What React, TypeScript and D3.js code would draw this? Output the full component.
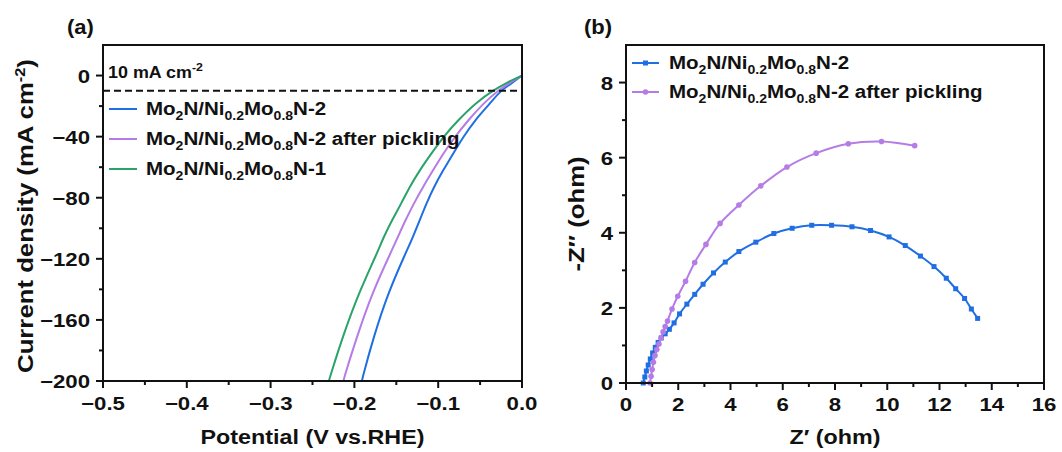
import React from 'react';
import * as d3 from 'd3';

// LSV curves, [potential V vs RHE, current density mA cm-2]
const lsvN2 = [
  [0, 0], [-0.012, -5], [-0.025, -9.5], [-0.038, -18.2], [-0.056, -29.1], [-0.07, -40.1],
  [-0.082, -51], [-0.094, -61.9], [-0.105, -72.8], [-0.114, -83.7], [-0.122, -94.6],
  [-0.13, -105.6], [-0.139, -116.4], [-0.16, -142.6], [-0.177, -171], [-0.19, -197.2], [-0.191, -200],
];
const lsvN2Pickled = [
  [0, 0], [-0.014, -4.5], [-0.028, -9.5], [-0.046, -18.2], [-0.064, -29.1], [-0.08, -40.1],
  [-0.094, -51], [-0.106, -61.9], [-0.118, -72.8], [-0.129, -83.7], [-0.139, -94.6],
  [-0.148, -105.6], [-0.157, -116.4], [-0.179, -142.6], [-0.197, -171], [-0.212, -197.2], [-0.213, -200],
];
const lsvN1 = [
  [0, 0], [-0.016, -4], [-0.034, -9.5], [-0.056, -18.2], [-0.076, -29.1], [-0.094, -40.1],
  [-0.108, -51], [-0.122, -61.9], [-0.134, -72.8], [-0.144, -83.7], [-0.155, -94.6],
  [-0.165, -105.6], [-0.173, -116.4], [-0.195, -142.6], [-0.214, -171], [-0.229, -197.2], [-0.2305, -200],
];

// Nyquist plots, [Z', -Z'']
const eisN2 = [
  [0.66, 0], [0.72, 0.16], [0.78, 0.32], [0.85, 0.48], [0.93, 0.64], [1.02, 0.8],
  [1.12, 0.95], [1.23, 1.08], [1.35, 1.2], [1.5, 1.31], [1.66, 1.43], [1.84, 1.6],
  [2.05, 1.84], [2.33, 2.1], [2.63, 2.36], [2.95, 2.63], [3.35, 2.93], [3.8, 3.22],
  [4.32, 3.5], [4.97, 3.75], [5.66, 3.98], [6.36, 4.12], [7.11, 4.2], [7.87, 4.2],
  [8.65, 4.16], [9.36, 4.06], [10.07, 3.89], [10.69, 3.66], [11.27, 3.38], [11.79, 3.1],
  [12.26, 2.79], [12.62, 2.51], [12.96, 2.25], [13.22, 1.97], [13.46, 1.72],
];
const eisN2Pickled = [
  [0.92, 0], [0.96, 0.18], [1.0, 0.36], [1.05, 0.55], [1.11, 0.73], [1.18, 0.89],
  [1.26, 1.04], [1.34, 1.2], [1.42, 1.36], [1.5, 1.5], [1.59, 1.65], [1.76, 1.97],
  [1.98, 2.31], [2.28, 2.71], [2.63, 3.21], [3.06, 3.69], [3.6, 4.25], [4.32, 4.74],
  [5.16, 5.25], [6.16, 5.75], [7.28, 6.12], [8.51, 6.37], [9.78, 6.43], [11.05, 6.32],
];

const lsvXTicks = [-0.5, -0.4, -0.3, -0.2, -0.1, 0.0];
const lsvYTicks = [0, -40, -80, -120, -160, -200];
const eisXTicks = [0, 2, 4, 6, 8, 10, 12, 14, 16];
const eisYTicks = [0, 2, 4, 6, 8];

const BLUE = '#1f6fe3';
const PURPLE = '#b57ce6';
const GREEN = '#2aa36b';
const INK = '#111';
const FONT = '"Liberation Sans", Arial, sans-serif';

const fmtV = (v: number) => (v === 0 ? '0.0' : '\u2212' + Math.abs(v).toFixed(1));
const fmtJ = (v: number) => (v === 0 ? '0' : '\u2212' + Math.abs(v));

// bold text, a bit wider than Liberation Sans like the source figure
const T = ({ x, y, size = 19, sx = 1.15, anchor = 'start', rotate = false, children }: any) => (
  <text
    transform={`translate(${x},${y})${rotate ? ' rotate(-90)' : ''} scale(${sx},1)`}
    textAnchor={anchor}
    fontFamily={FONT}
    fontWeight='bold'
    fontSize={size}
    fill={INK}
  >
    {children}
  </text>
);

// Mo2N/Ni0.2Mo0.8N-x with subscripts
const Formula = ({ x, y, tail }: any) => {
  const s = 13;
  const d = 5;
  return (
    <T x={x} y={y} size={19} sx={1.08}>
      Mo<tspan dy={d} fontSize={s}>2</tspan>
      <tspan dy={-d}>N/Ni</tspan><tspan dy={d} fontSize={s}>0.2</tspan>
      <tspan dy={-d}>Mo</tspan><tspan dy={d} fontSize={s}>0.8</tspan>
      <tspan dy={-d}>{tail}</tspan>
    </T>
  );
};

const LsvPanel = () => {
  const left = 103, right = 522, top = 45, bottom = 381;
  const x = d3.scaleLinear().domain([-0.5, 0]).range([left, right]);
  const y = d3.scaleLinear().domain([-200, 20]).range([bottom, top]);
  const line = d3.line().x((d) => x(d[0])).y((d) => y(d[1])).curve(d3.curveBasis);
  const minorX = [-0.45, -0.35, -0.25, -0.15, -0.05];
  const minorY = [-20, -60, -100, -140, -180];
  const series = [
    { data: lsvN2, color: BLUE, tail: 'N-2' },
    { data: lsvN2Pickled, color: PURPLE, tail: 'N-2 after pickling' },
    { data: lsvN1, color: GREEN, tail: 'N-1' },
  ];
  return (
    <g>
      <defs>
        <clipPath id='clipA'>
          <rect x={left} y={top} width={right - left} height={bottom - top} />
        </clipPath>
      </defs>
      <g clipPath='url(#clipA)'>
        {series.map((s, i) => (
          <path key={i} d={line(s.data as any)} fill='none' stroke={s.color} strokeWidth={2} />
        ))}
      </g>
      <line x1={left} x2={right} y1={y(-10)} y2={y(-10)} stroke={INK} strokeWidth={2} strokeDasharray='7,4' />
      <rect x={left} y={top} width={right - left} height={bottom - top} fill='none' stroke={INK} strokeWidth={2} />
      {lsvXTicks.map((t) => (
        <g key={t}>
          <line x1={x(t)} x2={x(t)} y1={bottom} y2={bottom + 7} stroke={INK} strokeWidth={2} />
          <T x={x(t)} y={410} anchor='middle' sx={1.17}>{fmtV(t)}</T>
        </g>
      ))}
      {minorX.map((t) => (
        <line key={t} x1={x(t)} x2={x(t)} y1={bottom} y2={bottom + 4} stroke={INK} strokeWidth={2} />
      ))}
      {lsvYTicks.map((t) => (
        <g key={t}>
          <line x1={left - 7} x2={left} y1={y(t)} y2={y(t)} stroke={INK} strokeWidth={2} />
          <T x={left - 13} y={y(t) + 7} anchor='end' sx={1.17}>{fmtJ(t)}</T>
        </g>
      ))}
      {minorY.map((t) => (
        <line key={t} x1={left - 4} x2={left} y1={y(t)} y2={y(t)} stroke={INK} strokeWidth={2} />
      ))}
      <T x={108} y={78} size={16} sx={1.12}>
        10 mA cm<tspan dy={-7} fontSize={11}>-2</tspan>
      </T>
      {series.map((s, i) => (
        <g key={i}>
          <line x1={109} x2={137} y1={109 + i * 30} y2={109 + i * 30} stroke={s.color} strokeWidth={2} />
          <Formula x={146} y={115 + i * 30} tail={s.tail} />
        </g>
      ))}
      <T x={(left + right) / 2} y={444} size={21} sx={1.11} anchor='middle'>
        Potential (V vs.RHE)
      </T>
      <T x={33} y={216} size={22} sx={1.17} anchor='middle' rotate>
        Current density (mA cm<tspan dy={-8} fontSize={14}>-2</tspan><tspan dy={8}>)</tspan>
      </T>
      <T x={67} y={34} size={20} sx={1.1}>(a)</T>
    </g>
  );
};

const EisPanel = () => {
  const left = 626, right = 1044, top = 45, bottom = 383;
  const x = d3.scaleLinear().domain([0, 16]).range([left, right]);
  const y = d3.scaleLinear().domain([0, 9]).range([bottom, top]);
  const line = d3.line().x((d) => x(d[0])).y((d) => y(d[1])).curve(d3.curveCatmullRom);
  const minorX = d3.range(1, 16, 2);
  const minorY = [1, 3, 5, 7];
  const series = [
    { data: eisN2, color: BLUE, tail: 'N-2', square: true },
    { data: eisN2Pickled, color: PURPLE, tail: 'N-2 after pickling', square: false },
  ];
  const marker = (cx: number, cy: number, s: any, k: any) =>
    s.square ? (
      <rect key={k} x={cx - 2.5} y={cy - 2.5} width={5} height={5} fill={s.color} />
    ) : (
      <circle key={k} cx={cx} cy={cy} r={2.8} fill={s.color} />
    );
  return (
    <g>
      {series.map((s, i) => (
        <g key={i}>
          <path d={line(s.data as any)} fill='none' stroke={s.color} strokeWidth={2} />
          {s.data.map((d, j) => marker(x(d[0]), y(d[1]), s, j))}
        </g>
      ))}
      <rect x={left} y={top} width={right - left} height={bottom - top} fill='none' stroke={INK} strokeWidth={2} />
      {eisXTicks.map((t) => (
        <g key={t}>
          <line x1={x(t)} x2={x(t)} y1={bottom} y2={bottom + 7} stroke={INK} strokeWidth={2} />
          <T x={x(t)} y={411} anchor='middle' sx={1.17}>{t}</T>
        </g>
      ))}
      {minorX.map((t) => (
        <line key={t} x1={x(t)} x2={x(t)} y1={bottom} y2={bottom + 4} stroke={INK} strokeWidth={2} />
      ))}
      {eisYTicks.map((t) => (
        <g key={t}>
          <line x1={left - 7} x2={left} y1={y(t)} y2={y(t)} stroke={INK} strokeWidth={2} />
          <T x={left - 13} y={y(t) + 7} anchor='end' sx={1.17}>{t}</T>
        </g>
      ))}
      {minorY.map((t) => (
        <line key={t} x1={left - 4} x2={left} y1={y(t)} y2={y(t)} stroke={INK} strokeWidth={2} />
      ))}
      {series.map((s, i) => (
        <g key={i}>
          <line x1={632} x2={659} y1={63 + i * 29} y2={63 + i * 29} stroke={s.color} strokeWidth={2} />
          {marker(645.5, 63 + i * 29, s, 'm' + i)}
          <Formula x={669} y={69 + i * 29} tail={s.tail} />
        </g>
      ))}
      <T x={(left + right) / 2} y={444} size={21} sx={1.11} anchor='middle'>
        Z{'\u2032'} (ohm)
      </T>
      <T x={584} y={(top + bottom) / 2} size={22} sx={1.17} anchor='middle' rotate>
        -Z{'\u2033'} (ohm)
      </T>
      <T x={584} y={34} size={20} sx={1.1}>(b)</T>
    </g>
  );
};

const App = () => (
  <div style={{ position: 'absolute', left: 0, top: 0 }}>
    <svg width={1062} height={452} viewBox='0 0 1062 452' style={{ display: 'block', background: '#fff' }}>
      <LsvPanel />
      <EisPanel />
    </svg>
  </div>
);

export default App;
